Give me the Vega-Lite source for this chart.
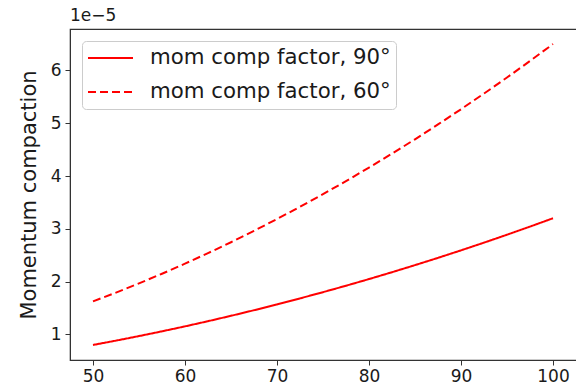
{
  "$schema": "https://vega.github.io/schema/vega-lite/v6.json",
  "autosize": {"type": "none"},
  "width": 508,
  "height": 331,
  "padding": {"left": 70, "top": 29, "right": 0, "bottom": 28},
  "background": "white",
  "config": {
    "font": "DejaVu Sans",
    "view": {"stroke": "#333", "strokeWidth": 1.2},
    "axis": {"grid": false, "domainColor": "#333", "tickColor": "#333", "tickSize": 5, "labelFontSize": 17, "labelColor": "#1a1a1a", "titleColor": "#1a1a1a", "titleFontWeight": "normal", "titleFontSize": 21, "labelFont": "DejaVu Sans", "titleFont": "DejaVu Sans"}
  },
  "title": {"text": "1e\u22125", "anchor": "start", "frame": "group", "fontSize": 17, "fontWeight": "normal", "color": "#1a1a1a", "offset": 4, "font": "DejaVu Sans"},
  "data": {"values": [
    {"x": 50, "y": 0.800e-5, "s": "mom comp factor, 90\u00b0"},
    {"x": 52.5, "y": 0.882e-5, "s": "mom comp factor, 90\u00b0"},
    {"x": 55, "y": 0.968e-5, "s": "mom comp factor, 90\u00b0"},
    {"x": 57.5, "y": 1.058e-5, "s": "mom comp factor, 90\u00b0"},
    {"x": 60, "y": 1.152e-5, "s": "mom comp factor, 90\u00b0"},
    {"x": 62.5, "y": 1.250e-5, "s": "mom comp factor, 90\u00b0"},
    {"x": 65, "y": 1.352e-5, "s": "mom comp factor, 90\u00b0"},
    {"x": 67.5, "y": 1.458e-5, "s": "mom comp factor, 90\u00b0"},
    {"x": 70, "y": 1.568e-5, "s": "mom comp factor, 90\u00b0"},
    {"x": 72.5, "y": 1.682e-5, "s": "mom comp factor, 90\u00b0"},
    {"x": 75, "y": 1.800e-5, "s": "mom comp factor, 90\u00b0"},
    {"x": 77.5, "y": 1.922e-5, "s": "mom comp factor, 90\u00b0"},
    {"x": 80, "y": 2.048e-5, "s": "mom comp factor, 90\u00b0"},
    {"x": 82.5, "y": 2.178e-5, "s": "mom comp factor, 90\u00b0"},
    {"x": 85, "y": 2.312e-5, "s": "mom comp factor, 90\u00b0"},
    {"x": 87.5, "y": 2.450e-5, "s": "mom comp factor, 90\u00b0"},
    {"x": 90, "y": 2.592e-5, "s": "mom comp factor, 90\u00b0"},
    {"x": 92.5, "y": 2.738e-5, "s": "mom comp factor, 90\u00b0"},
    {"x": 95, "y": 2.888e-5, "s": "mom comp factor, 90\u00b0"},
    {"x": 97.5, "y": 3.042e-5, "s": "mom comp factor, 90\u00b0"},
    {"x": 100, "y": 3.200e-5, "s": "mom comp factor, 90\u00b0"},
    {"x": 50, "y": 1.625e-5, "s": "mom comp factor, 60\u00b0"},
    {"x": 52.5, "y": 1.792e-5, "s": "mom comp factor, 60\u00b0"},
    {"x": 55, "y": 1.966e-5, "s": "mom comp factor, 60\u00b0"},
    {"x": 57.5, "y": 2.149e-5, "s": "mom comp factor, 60\u00b0"},
    {"x": 60, "y": 2.340e-5, "s": "mom comp factor, 60\u00b0"},
    {"x": 62.5, "y": 2.539e-5, "s": "mom comp factor, 60\u00b0"},
    {"x": 65, "y": 2.746e-5, "s": "mom comp factor, 60\u00b0"},
    {"x": 67.5, "y": 2.962e-5, "s": "mom comp factor, 60\u00b0"},
    {"x": 70, "y": 3.185e-5, "s": "mom comp factor, 60\u00b0"},
    {"x": 72.5, "y": 3.417e-5, "s": "mom comp factor, 60\u00b0"},
    {"x": 75, "y": 3.656e-5, "s": "mom comp factor, 60\u00b0"},
    {"x": 77.5, "y": 3.904e-5, "s": "mom comp factor, 60\u00b0"},
    {"x": 80, "y": 4.160e-5, "s": "mom comp factor, 60\u00b0"},
    {"x": 82.5, "y": 4.424e-5, "s": "mom comp factor, 60\u00b0"},
    {"x": 85, "y": 4.696e-5, "s": "mom comp factor, 60\u00b0"},
    {"x": 87.5, "y": 4.977e-5, "s": "mom comp factor, 60\u00b0"},
    {"x": 90, "y": 5.265e-5, "s": "mom comp factor, 60\u00b0"},
    {"x": 92.5, "y": 5.562e-5, "s": "mom comp factor, 60\u00b0"},
    {"x": 95, "y": 5.866e-5, "s": "mom comp factor, 60\u00b0"},
    {"x": 97.5, "y": 6.179e-5, "s": "mom comp factor, 60\u00b0"},
    {"x": 100, "y": 6.500e-5, "s": "mom comp factor, 60\u00b0"}
  ]},
  "mark": {"type": "line", "color": "red", "strokeWidth": 2, "clip": true},
  "encoding": {
    "x": {"field": "x", "type": "quantitative", "scale": {"domain": [47.5, 102.5], "range": [0, 506], "nice": false, "zero": false},
      "axis": {"values": [50, 60, 70, 80, 90, 100], "title": null, "labelPadding": 3}},
    "y": {"field": "y", "type": "quantitative", "scale": {"domain": [0.515e-5, 6.785e-5], "nice": false, "zero": false},
      "axis": {"values": [1e-5, 2e-5, 3e-5, 4e-5, 5e-5, 6e-5], "labelExpr": "round(datum.value*1e5)", "title": "Momentum compaction", "titlePadding": 11, "labelPadding": 4}},
    "strokeDash": {"field": "s", "type": "nominal",
      "scale": {"domain": ["mom comp factor, 90\u00b0", "mom comp factor, 60\u00b0"], "range": [[1, 0], [8, 4]]},
      "legend": {"title": null, "orient": "none", "legendX": 12, "legendY": 12, "symbolType": "stroke", "symbolSize": 2025, "symbolStrokeWidth": 2, "symbolStrokeColor": "red", "labelFontSize": 21.3, "labelFont": "DejaVu Sans", "labelColor": "#1a1a1a", "labelOffset": 16, "clipHeight": 24, "rowPadding": 10, "padding": 5, "fillColor": "white", "strokeColor": "#ccc", "cornerRadius": 4, "labelLimit": 400}}
  }
}
